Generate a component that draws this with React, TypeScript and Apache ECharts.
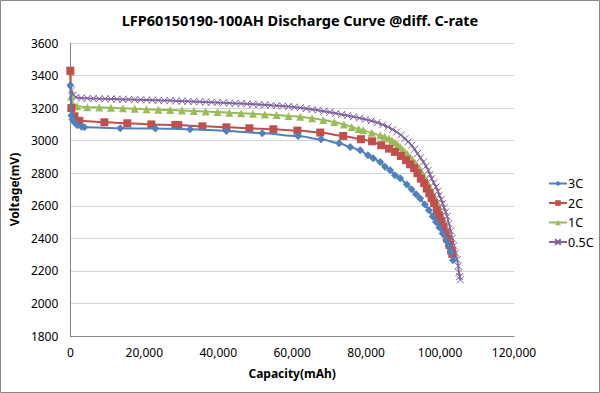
import React, { useEffect, useRef } from "react";
import * as echarts from "echarts";

const titleText = "LFP60150190-100AH Discharge Curve @diff. C-rate";
const seriesNames = ["3C", "2C", "1C", "0.5C"];
const xTicks = [0, 20000, 40000, 60000, 80000, 100000, 120000];
const yTicks = [1800, 2000, 2200, 2400, 2600, 2800, 3000, 3200, 3400, 3600];

const cap3C = [0, 270, 540, 1080, 1900, 3000, 3800, 13500, 23000, 32400, 42200, 51900, 61600, 67800, 72700, 75700, 78400, 80500, 81900, 83800, 85100, 86500, 87800, 89200, 91000, 92300, 93500, 94600, 95900, 97000, 98000, 98900, 99800, 100700, 101600, 102300, 102900, 103500];
const volt3C = [3340, 3155, 3130, 3113, 3095, 3085, 3082, 3076, 3075, 3070, 3060, 3046, 3028, 3009, 2984, 2961, 2941, 2910, 2892, 2869, 2839, 2818, 2788, 2769, 2731, 2702, 2671, 2645, 2608, 2573, 2534, 2500, 2466, 2430, 2389, 2356, 2318, 2266];

const cap2C = [0, 270, 1080, 2430, 9200, 15400, 21900, 28400, 29200, 35700, 42200, 48400, 54900, 61400, 67600, 73800, 78600, 81600, 84100, 86200, 87800, 89400, 90800, 91900, 93000, 93900, 94800, 95700, 96400, 97100, 97700, 98400, 99100, 99700, 100300, 100900, 101500, 102000, 102500, 103000, 103300];
const volt2C = [3430, 3200, 3150, 3122, 3113, 3107, 3100, 3097, 3096, 3088, 3082, 3076, 3070, 3062, 3050, 3029, 3009, 2996, 2972, 2951, 2931, 2906, 2880, 2855, 2831, 2800, 2767, 2739, 2706, 2677, 2647, 2616, 2573, 2540, 2505, 2470, 2430, 2395, 2360, 2325, 2305];

const cap1C = [0, 200, 600, 1800, 4600, 7800, 11000, 14200, 17400, 20600, 23800, 27000, 30200, 33400, 36600, 39800, 43000, 46200, 49400, 52600, 55800, 59000, 62200, 65400, 68400, 71400, 74000, 76100, 78000, 79200, 81500, 83800, 85000, 86200, 87000, 87800, 88500, 89200, 89900, 90500, 91200, 91900, 92600, 93200, 93800, 94400, 95000, 95500, 96000, 96400, 96900, 97300, 97800, 98200, 98700, 99100, 99600, 100000, 100500, 101000, 101500, 102000, 102500, 103000, 103300, 103600];
const volt1C = [3425, 3272, 3228, 3212, 3206, 3204, 3202, 3199, 3196, 3193, 3190, 3188, 3185, 3182, 3179, 3176, 3172, 3169, 3165, 3161, 3157, 3152, 3147, 3138, 3127, 3114, 3100, 3084, 3072, 3064, 3048, 3033, 3024, 3013, 3001, 2988, 2975, 2961, 2946, 2931, 2916, 2900, 2883, 2865, 2847, 2829, 2809, 2788, 2768, 2747, 2727, 2706, 2686, 2665, 2645, 2624, 2598, 2573, 2540, 2505, 2470, 2435, 2400, 2365, 2340, 2312];

const cap05C = [300, 800, 1500, 3000, 4600, 6200, 7800, 9400, 11000, 12600, 14200, 15800, 17400, 19000, 20600, 22200, 23800, 25400, 27000, 28600, 30200, 31800, 33400, 35000, 36600, 38200, 39800, 41400, 43000, 44600, 46200, 47800, 49400, 51000, 52600, 54200, 55800, 57400, 59000, 60600, 62200, 63800, 65400, 67000, 68600, 70200, 71800, 73400, 75000, 76600, 78200, 79800, 81400, 83000, 84500, 85900, 87200, 88300, 89400, 90500, 91400, 92300, 93100, 93900, 94700, 95500, 96200, 96800, 97300, 97700, 98300, 98900, 99400, 99800, 100300, 100700, 101100, 101500, 101900, 102400, 102900, 103300, 103800, 104200, 104600, 104900, 105100, 105300, 105500];
const volt05C = [3310, 3280, 3266, 3262, 3260, 3259, 3258, 3257, 3256, 3255, 3254, 3253, 3252, 3251, 3250, 3249, 3248, 3247, 3246, 3244, 3243, 3242, 3240, 3239, 3237, 3236, 3234, 3233, 3231, 3229, 3228, 3226, 3224, 3222, 3220, 3218, 3215, 3213, 3210, 3206, 3202, 3197, 3192, 3187, 3181, 3175, 3168, 3161, 3154, 3147, 3139, 3131, 3122, 3111, 3098, 3084, 3069, 3053, 3035, 3013, 2993, 2972, 2947, 2921, 2895, 2869, 2843, 2818, 2792, 2767, 2741, 2716, 2690, 2665, 2640, 2614, 2588, 2562, 2535, 2490, 2445, 2400, 2355, 2310, 2270, 2230, 2190, 2165, 2145];

const colors = ["#4F81BD", "#C0504D", "#9BBB59", "#8064A2"];
const FONT = "'Noto Sans', 'DejaVu Sans', sans-serif";

function zip(xs: number[], ys: number[]) {
  return xs.map((x, i) => [x, ys[i]]);
}

export default function App() {
  const ref = useRef<HTMLDivElement>(null);
  useEffect(() => {
    document.body.style.margin = "0";
    const chart = echarts.init(ref.current!, null, { renderer: "svg" });
    const caps = [cap3C, cap2C, cap1C, cap05C];
    const volts = [volt3C, volt2C, volt1C, volt05C];
    const symbols = ["diamond", "rect", "triangle", "path://M0,0L10,10M10,0L0,10"];
    const sizes = [8, 8, 8, 7];
    const option: any = {
      animation: false,
      backgroundColor: "#ffffff",
      textStyle: { fontFamily: FONT },
      title: {
        text: titleText,
        left: "center",
        top: 7,
        textStyle: { fontFamily: FONT, fontSize: 14.5, fontWeight: "bold", color: "#000" },
      },
      legend: {
        orient: "vertical",
        left: 543,
        top: 172,
        itemWidth: 18,
        itemHeight: 7,
        itemGap: 6.5,
        data: seriesNames,
        textStyle: { fontFamily: FONT, fontSize: 12.5, color: "#000", padding: [0, 0, 0, -4] },
      },
      grid: { left: 70, right: 86, top: 43, bottom: 57, containLabel: false },
      xAxis: {
        type: "value",
        min: xTicks[0],
        max: xTicks[xTicks.length - 1],
        interval: xTicks[1] - xTicks[0],
        name: "Capacity(mAh)",
        nameLocation: "middle",
        nameGap: 31,
        nameTextStyle: { fontFamily: FONT, fontSize: 12, fontWeight: "bold", color: "#000" },
        axisLine: { show: true, lineStyle: { color: "#868686", width: 1 } },
        axisTick: { show: false },
        splitLine: { show: false },
        axisLabel: {
          fontFamily: FONT,
          fontSize: 12,
          color: "#000",
          margin: 10,
          formatter: (v: number) => v.toLocaleString("en-US"),
        },
      },
      yAxis: {
        type: "value",
        min: yTicks[0],
        max: yTicks[yTicks.length - 1],
        interval: yTicks[1] - yTicks[0],
        name: "Voltage(mV)",
        nameLocation: "middle",
        nameGap: 37,
        nameTextStyle: { fontFamily: FONT, fontSize: 12, fontWeight: "bold", color: "#000" },
        axisLine: { show: true, lineStyle: { color: "#868686", width: 1 } },
        axisTick: { show: false },
        splitLine: { show: true, lineStyle: { color: "#D4D4D4", width: 1 } },
        axisLabel: {
          fontFamily: FONT,
          fontSize: 12,
          color: "#000",
          margin: 12,
          formatter: (v: number) => String(v),
        },
      },
      graphic: [
        {
          type: "rect",
          shape: { x: 0.5, y: 0.5, width: 599, height: 392 },
          style: { fill: "none", stroke: "#868686", lineWidth: 1 },
          silent: true,
          z: 100,
        },
      ],
      series: seriesNames.map((name, i) => ({
        name,
        type: "line",
        data: zip(caps[i], volts[i]),
        smooth: 0.3,
        smoothMonotone: "x",
        symbol: symbols[i],
        symbolSize: sizes[i],
        showSymbol: true,
        lineStyle: { color: colors[i], width: 2 },
        itemStyle: i === 3
          ? { color: colors[i], borderColor: colors[i], borderWidth: 1 }
          : { color: colors[i], borderColor: colors[i], borderWidth: 0 },
        z: 2 + (3 - i),
      })),
    };
    chart.setOption(option);
    return () => chart.dispose();
  }, []);
  return (
    <div
      ref={ref}
      style={{ position: "absolute", left: 0, top: 0, width: 600, height: 393 }}
    />
  );
}
